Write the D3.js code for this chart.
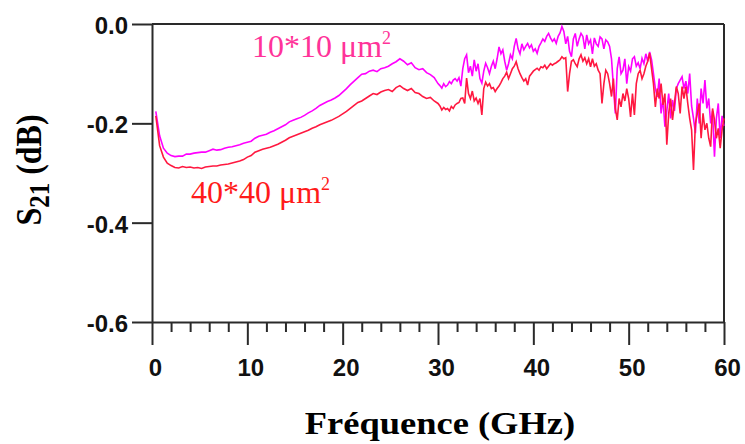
<!DOCTYPE html>
<html>
<head>
<meta charset="utf-8">
<script src="https://cdn.jsdelivr.net/npm/d3@7"></script>
<style>
  html, body { margin: 0; padding: 0; background: #ffffff; }
  svg { display: block; }
</style>
</head>
<body>
<svg id="chart" width="745" height="444"></svg>
<script>
// ---- data: frequency sweep (GHz): 0.4 GHz steps up to 30 GHz, then 0.2 GHz steps ----
const freqs = d3.range(0.4, 30.01, 0.4).concat(d3.range(30.2, 60.01, 0.2));

// S21 (dB), 10*10 µm² structure
const s21_10x10 = [
  // 0.4 – 30.0 GHz
  -0.176,-0.225,-0.250,-0.260,-0.265,-0.267,-0.266,-0.266,-0.262,-0.262,
  -0.260,-0.259,-0.258,-0.258,-0.255,-0.252,-0.254,-0.253,-0.250,-0.248,
  -0.247,-0.245,-0.243,-0.240,-0.238,-0.236,-0.230,-0.226,-0.224,-0.222,
  -0.218,-0.215,-0.211,-0.207,-0.203,-0.197,-0.194,-0.191,-0.188,-0.184,
  -0.179,-0.175,-0.170,-0.164,-0.160,-0.156,-0.153,-0.149,-0.144,-0.137,
  -0.130,-0.122,-0.115,-0.108,-0.101,-0.100,-0.095,-0.093,-0.096,-0.090,
  -0.088,-0.085,-0.080,-0.076,-0.070,-0.075,-0.082,-0.078,-0.088,-0.092,
  -0.090,-0.098,-0.102,-0.108,-0.120,
  // 30.2 – 60.0 GHz
  -0.124,-0.129,-0.120,-0.126,-0.123,-0.116,-0.120,-0.113,-0.110,-0.115,
  -0.108,-0.125,-0.090,-0.070,-0.062,-0.098,-0.085,-0.105,-0.072,-0.095,
  -0.080,-0.110,-0.119,-0.095,-0.079,-0.088,-0.100,-0.085,-0.075,-0.090,
  -0.070,-0.046,-0.060,-0.052,-0.075,-0.093,-0.080,-0.062,-0.070,-0.045,
  -0.029,-0.050,-0.060,-0.040,-0.052,-0.045,-0.039,-0.048,-0.042,-0.055,
  -0.050,-0.059,-0.045,-0.038,-0.030,-0.035,-0.025,-0.019,-0.028,-0.035,
  -0.030,-0.039,-0.025,-0.018,-0.005,-0.015,-0.040,-0.025,-0.055,-0.066,
  -0.030,-0.019,-0.045,-0.030,-0.019,-0.025,-0.050,-0.022,-0.040,-0.032,
  -0.060,-0.028,-0.040,-0.045,-0.026,-0.030,-0.050,-0.032,-0.036,-0.045,
  -0.070,-0.126,-0.180,-0.090,-0.066,-0.100,-0.093,-0.070,-0.120,-0.086,
  -0.095,-0.070,-0.066,-0.085,-0.078,-0.090,-0.069,-0.080,-0.060,-0.075,
  -0.056,-0.072,-0.100,-0.130,-0.147,-0.110,-0.180,-0.150,-0.207,-0.175,
  -0.140,-0.190,-0.153,-0.175,-0.130,-0.120,-0.113,-0.106,-0.130,-0.115,
  -0.140,-0.100,-0.165,-0.190,-0.220,-0.150,-0.200,-0.130,-0.160,-0.113,
  -0.170,-0.150,-0.200,-0.175,-0.267,-0.190,-0.160,-0.230,-0.185,-0.205
];

// S21 (dB), 40*40 µm² structure
const s21_40x40 = [
  // 0.4 – 30.0 GHz
  -0.185,-0.245,-0.268,-0.280,-0.285,-0.289,-0.290,-0.287,-0.289,-0.288,
  -0.290,-0.289,-0.291,-0.288,-0.287,-0.286,-0.286,-0.284,-0.283,-0.282,
  -0.280,-0.278,-0.276,-0.273,-0.268,-0.265,-0.258,-0.255,-0.252,-0.250,
  -0.248,-0.245,-0.242,-0.238,-0.234,-0.229,-0.226,-0.223,-0.220,-0.217,
  -0.214,-0.210,-0.207,-0.203,-0.200,-0.197,-0.194,-0.190,-0.186,-0.181,
  -0.176,-0.170,-0.164,-0.158,-0.155,-0.150,-0.145,-0.140,-0.142,-0.137,
  -0.134,-0.132,-0.136,-0.128,-0.124,-0.130,-0.134,-0.130,-0.138,-0.140,
  -0.146,-0.150,-0.148,-0.155,-0.160,
  // 30.2 – 60.0 GHz
  -0.165,-0.173,-0.168,-0.172,-0.170,-0.175,-0.166,-0.170,-0.163,-0.160,
  -0.158,-0.150,-0.149,-0.160,-0.109,-0.140,-0.150,-0.135,-0.155,-0.149,
  -0.160,-0.150,-0.183,-0.130,-0.117,-0.125,-0.120,-0.130,-0.128,-0.136,
  -0.130,-0.125,-0.118,-0.110,-0.105,-0.097,-0.110,-0.100,-0.090,-0.085,
  -0.076,-0.090,-0.100,-0.108,-0.115,-0.110,-0.123,-0.105,-0.100,-0.095,
  -0.092,-0.089,-0.093,-0.086,-0.088,-0.083,-0.090,-0.085,-0.080,-0.083,
  -0.080,-0.078,-0.075,-0.072,-0.066,-0.070,-0.068,-0.136,-0.100,-0.075,
  -0.072,-0.080,-0.086,-0.070,-0.062,-0.075,-0.068,-0.080,-0.070,-0.086,
  -0.070,-0.085,-0.080,-0.093,-0.100,-0.160,-0.120,-0.093,-0.100,-0.120,
  -0.146,-0.110,-0.170,-0.193,-0.150,-0.167,-0.140,-0.155,-0.130,-0.150,
  -0.187,-0.140,-0.183,-0.120,-0.100,-0.093,-0.110,-0.100,-0.085,-0.075,
  -0.059,-0.090,-0.120,-0.167,-0.130,-0.150,-0.120,-0.163,-0.140,-0.243,
  -0.180,-0.150,-0.193,-0.160,-0.126,-0.140,-0.180,-0.126,-0.150,-0.126,
  -0.160,-0.190,-0.213,-0.294,-0.200,-0.180,-0.160,-0.230,-0.180,-0.213,
  -0.200,-0.230,-0.247,-0.170,-0.193,-0.230,-0.210,-0.250,-0.213,-0.190
];

const xTicks = [0, 10, 20, 30, 40, 50, 60];
const xMinorTicks = [2,4,6,8,12,14,16,18,22,24,26,28,32,34,36,38,42,44,46,48,52,54,56,58];
const yTicks = [0, -0.2, -0.4, -0.6];
const yTickLabels = ["0.0", "-0.2", "-0.4", "-0.6"];
const seriesNames = ["10*10 \u03bcm", "40*40 \u03bcm"];
const xTitle = "Fr\u00e9quence (GHz)";

// ---- layout ----
const svg = d3.select("#chart");
const L = 152, R = 724, T = 24, B = 322;
const x = d3.scaleLinear().domain([0, 60]).range([L, R]);
const y = d3.scaleLinear().domain([-0.6, 0]).range([B, T]);
const axisColor = "#2a2a2a";

// frame (top and right)
svg.append("line").attr("x1", L).attr("x2", R).attr("y1", T).attr("y2", T)
  .attr("stroke", axisColor).attr("stroke-width", 2);
svg.append("line").attr("x1", R).attr("x2", R).attr("y1", T).attr("y2", B)
  .attr("stroke", axisColor).attr("stroke-width", 2);

// x axis: minor ticks
const gxMinor = svg.append("g").attr("transform", `translate(0,${B})`)
  .call(d3.axisBottom(x).tickValues(xMinorTicks).tickSize(10).tickFormat(""));
gxMinor.select(".domain").remove();
gxMinor.selectAll(".tick line").attr("stroke", axisColor).attr("stroke-width", 2);

// x axis: major ticks
const gx = svg.append("g").attr("transform", `translate(0,${B})`)
  .call(d3.axisBottom(x).tickValues(xTicks).tickSize(23).tickSizeOuter(0).tickPadding(14));
gx.select(".domain").attr("stroke", axisColor).attr("stroke-width", 2);
gx.selectAll(".tick line").attr("stroke", axisColor).attr("stroke-width", 2);
gx.selectAll(".tick text")
  .attr("font-family", "'Liberation Sans', Arial, sans-serif")
  .attr("font-weight", "bold").attr("font-size", 24).attr("fill", "#111")
  .attr("dx", 3);

// y axis
const gy = svg.append("g").attr("transform", `translate(${L},0)`)
  .call(d3.axisLeft(y).tickValues(yTicks).tickSize(20).tickSizeOuter(0).tickPadding(4)
    .tickFormat((d, i) => yTickLabels[i]));
gy.select(".domain").attr("stroke", axisColor).attr("stroke-width", 2);
gy.selectAll(".tick line").attr("stroke", axisColor).attr("stroke-width", 2);
gy.selectAll(".tick text")
  .attr("font-family", "'Liberation Sans', Arial, sans-serif")
  .attr("font-weight", "bold").attr("font-size", 24).attr("fill", "#111")
  .attr("dy", "0.4em");

// data lines
const line = d3.line().x((d, i) => x(freqs[i])).y(d => y(d));
svg.append("path").datum(s21_10x10).attr("d", line)
  .attr("fill", "none").attr("stroke", "#ff00ff").attr("stroke-width", 1.6)
  .attr("stroke-linejoin", "miter");
svg.append("path").datum(s21_40x40).attr("d", line)
  .attr("fill", "none").attr("stroke", "#ff1840").attr("stroke-width", 1.6)
  .attr("stroke-linejoin", "miter");

// series labels
const serif = "'Liberation Serif', 'Times New Roman', serif";
const lab1 = svg.append("text").attr("x", 252).attr("y", 57)
  .attr("font-family", serif).attr("font-size", 32).attr("fill", "#ff3399");
lab1.append("tspan").text(seriesNames[0]);
lab1.append("tspan").text("2").attr("font-size", 18).attr("dy", -13);

const lab2 = svg.append("text").attr("x", 191).attr("y", 203)
  .attr("font-family", serif).attr("font-size", 32).attr("fill", "#ff1a1a");
lab2.append("tspan").text(seriesNames[1]);
lab2.append("tspan").text("2").attr("font-size", 18).attr("dy", -13);

// axis titles
svg.append("text")
  .attr("transform", "translate(440,434) scale(1.14,1)")
  .attr("text-anchor", "middle")
  .attr("font-family", serif).attr("font-weight", "bold").attr("font-size", 32)
  .attr("fill", "#000").text(xTitle);

const yt = svg.append("text")
  .attr("transform", "translate(41,170) scale(1.15,1) rotate(-90)")
  .attr("text-anchor", "middle")
  .attr("font-family", serif).attr("font-weight", "bold").attr("font-size", 32)
  .attr("fill", "#000");
yt.append("tspan").text("S");
yt.append("tspan").text("21").attr("font-size", 25).attr("dy", 7);
yt.append("tspan").text(" (dB)").attr("dy", -7);
</script>
</body>
</html>
